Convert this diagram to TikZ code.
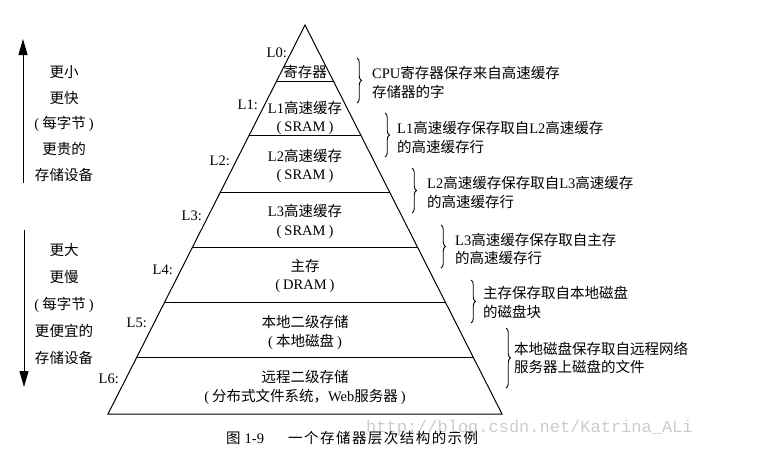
\documentclass[tikz,border=0pt]{standalone}
\usepackage{fontspec}
\setmainfont{Liberation Serif}
\newfontfamily\zhfont{Noto Sans CJK SC}
\newfontfamily\urlfont{Liberation Mono}
\usetikzlibrary{arrows.meta,decorations.pathreplacing,calc}
\newcommand\zh[1]{{\zhfont #1}}
\newcommand\pl{(\hspace{3pt}}
\newcommand\pr{\hspace{3pt})}

\begin{document}
\begin{tikzpicture}[x=1pt,y=-1pt,
  txt/.style={font=\fontsize{14.5}{18.5}\selectfont, inner sep=0pt},
  lvl/.style={txt, anchor=east},
  note/.style={txt, anchor=west, align=left},
  layer/.style={txt, align=center},
  edgeline/.style={line width=1pt},
  brc/.style={line width=0.9pt, decorate, decoration={brace, amplitude=4.5pt}},
  arr/.style={line width=1pt, -{Triangle[length=16pt,width=9pt]}}
]
\useasboundingbox (0,0) rectangle (767,472);

% faint URL watermark
\node[anchor=west, inner sep=0pt, text=gray!40,
      font=\urlfont\fontsize{17}{17}\selectfont] (url) at (366,428) {http://blog.csdn.net/Katrina\_ALi};

% pyramid
\coordinate (apex) at (305,25);
\coordinate (bl) at (108,414);
\coordinate (br) at (502,414);
\draw[edgeline, line join=miter] (bl) -- (apex) -- (br) -- cycle;
\foreach \f in {0.1440,0.2853,0.4293,0.5707,0.7121,0.8560}
  \draw[edgeline] ($(apex)!\f!(bl)$) -- ($(apex)!\f!(br)$);

% layer texts
\node[layer] (r0) at (305,72) {\zh{寄存器}};
\node[layer] (r1) at (305,118) {L1\zh{高速缓存}\\\pl SRAM\pr};
\node[layer] (r2) at (305,166) {L2\zh{高速缓存}\\\pl SRAM\pr};
\node[layer] (r3) at (305,221.5) {L3\zh{高速缓存}\\\pl SRAM\pr};
\node[layer] (r4) at (305,276) {\zh{主存}\\\pl DRAM\pr};
\node[layer] (r5) at (305,332.5) {\zh{本地二级存储}\\\pl\zh{本地磁盘}\pr};
\node[layer] (r6) at (305,387.5) {\zh{远程二级存储}\\\pl\zh{分布式文件系统，}Web\zh{服务器}\pr};

% level labels
\node[lvl] (l0) at (287,53) {L0:};
\node[lvl] (l1) at (258,105) {L1:};
\node[lvl] (l2) at (230,161) {L2:};
\node[lvl] (l3) at (202,216) {L3:};
\node[lvl] (l4) at (173,270) {L4:};
\node[lvl] (l5) at (147,323) {L5:};
\node[lvl] (l6) at (119,379) {L6:};

% right notes
\node[note] (n1) at (372,82.5) {CPU\zh{寄存器保存来自高速缓存}\\\zh{存储器的字}};
\node[note] (n2) at (397,137.5) {L1\zh{高速缓存保存取自}L2\zh{高速缓存}\\\zh{的高速缓存行}};
\node[note] (n3) at (427,192.5) {L2\zh{高速缓存保存取自}L3\zh{高速缓存}\\\zh{的高速缓存行}};
\node[note] (n4) at (455,249) {L3\zh{高速缓存保存取自主存}\\\zh{的高速缓存行}};
\node[note] (n5) at (483,302.5) {\zh{主存保存取自本地磁盘}\\\zh{的磁盘块}};
\node[note] (n6) at (514,358) {\zh{本地磁盘保存取自远程网络}\\\zh{服务器上磁盘的文件}};

% braces
\draw[brc] (357,58) -- (357,103);
\draw[brc] (385,113) -- (385,157);
\draw[brc] (412,168) -- (412,213);
\draw[brc] (441,225) -- (441,268);
\draw[brc] (471,280) -- (471,323);
\draw[brc] (506,328) -- (506,388);

% left side
\node[txt, align=center, font=\fontsize{14.5}{25.75}\selectfont] (upper) at (64,123.6)
  {\zh{更小}\\\zh{更快}\\\pl\zh{每字节}\pr\\\zh{更贵的}\\\zh{存储设备}};
\node[txt, align=center, font=\fontsize{14.5}{27}\selectfont] (lower) at (64,304)
  {\zh{更大}\\\zh{更慢}\\\pl\zh{每字节}\pr\\\zh{更便宜的}\\\zh{存储设备}};
\coordinate (a1s) at (23,183);
\coordinate (a1e) at (23,39);
\coordinate (a2s) at (24,230);
\coordinate (a2e) at (24,387);
\draw[arr] (a1s) -- (a1e);
\draw[arr] (a2s) -- (a2e);

% caption
\node[anchor=west, inner sep=0pt, font=\fontsize{14.5}{16}\selectfont] (cap1) at (226,438) {\zh{图}\hspace{4pt}1-9};
\node[anchor=west, inner sep=0pt, font=\fontsize{14.5}{16}\selectfont] (cap2) at (288,438)
  {\zhfont\addfontfeature{LetterSpace=10}一个存储器层次结构的示例};
\end{tikzpicture}
\end{document}
